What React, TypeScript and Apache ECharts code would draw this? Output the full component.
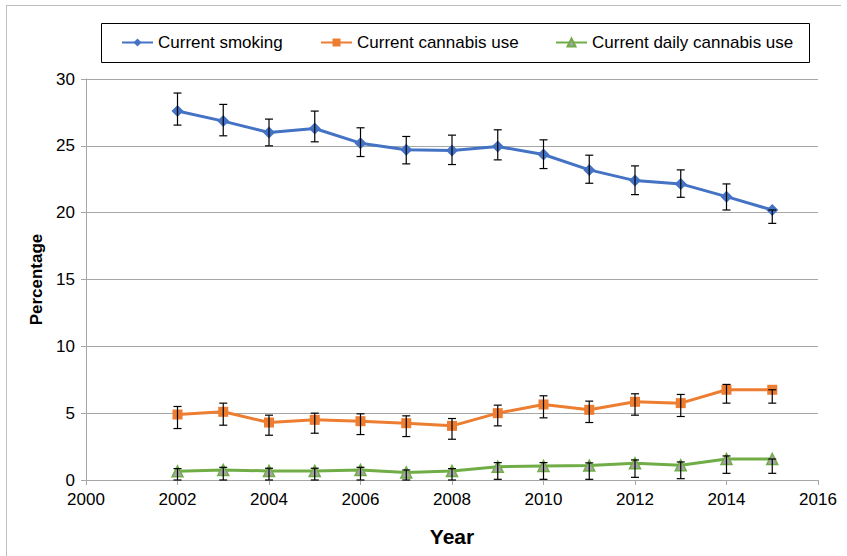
import React, { useEffect, useRef } from "react";
import * as echarts from "echarts";

const years = [2002, 2003, 2004, 2005, 2006, 2007, 2008, 2009, 2010, 2011, 2012, 2013, 2014, 2015];

const smoking = [27.6, 26.85, 26.0, 26.3, 25.2, 24.7, 24.65, 24.95, 24.35, 23.2, 22.4, 22.15, 21.2, 20.2];
const smokingHigh = [28.95, 28.1, 27.0, 27.6, 26.35, 25.7, 25.8, 26.2, 25.45, 24.3, 23.5, 23.2, 22.15, 20.2];
const smokingLow = [26.55, 25.75, 25.0, 25.3, 24.2, 23.65, 23.6, 23.95, 23.3, 22.2, 21.35, 21.15, 20.2, 19.2];

const cannabis = [4.9, 5.1, 4.3, 4.5, 4.4, 4.25, 4.05, 5.0, 5.65, 5.25, 5.85, 5.75, 6.75, 6.75];
const cannabisHigh = [5.5, 5.75, 4.85, 5.0, 4.95, 4.8, 4.6, 5.6, 6.3, 5.9, 6.45, 6.4, 7.15, 6.75];
const cannabisLow = [3.85, 4.1, 3.35, 3.5, 3.4, 3.25, 3.05, 4.05, 4.65, 4.3, 4.85, 4.75, 5.75, 5.75];

const daily = [0.65, 0.75, 0.68, 0.68, 0.75, 0.57, 0.67, 1.0, 1.05, 1.08, 1.25, 1.1, 1.57, 1.57];
const dailyHigh = [0.85, 0.95, 0.88, 0.88, 0.95, 0.75, 0.85, 1.3, 1.3, 1.28, 1.5, 1.35, 1.8, 1.57];
const dailyLow = [0, 0, 0, 0, 0, 0, 0, 0.05, 0.05, 0.05, 0.2, 0.1, 0.5, 0.5];

const seriesNames = ["Current smoking", "Current cannabis use", "Current daily cannabis use"];
const yTicks = { min: 0, max: 30, interval: 5 };
const xTicks = { min: 2000, max: 2016, interval: 2 };

const FONT = "'Liberation Sans', Arial, sans-serif";

function errorSeries(low: number[], high: number[]) {
  return {
    type: "custom",
    z: 5,
    silent: true,
    data: years.map((y, i) => [y, low[i], high[i]]),
    renderItem: (params: any, api: any) => {
      const x = api.value(0);
      const lo = api.coord([x, api.value(1)]);
      const hi = api.coord([x, api.value(2)]);
      const w = 4;
      const style = { stroke: "#000", lineWidth: 1.2 };
      const children: any[] = [
        { type: "line", shape: { x1: lo[0], y1: lo[1], x2: hi[0], y2: hi[1] }, style },
      ];
      if (Math.abs(hi[1] - lo[1]) > 0.5) {
        children.push({ type: "line", shape: { x1: hi[0] - w, y1: hi[1], x2: hi[0] + w, y2: hi[1] }, style });
        children.push({ type: "line", shape: { x1: lo[0] - w, y1: lo[1], x2: lo[0] + w, y2: lo[1] }, style });
      }
      return { type: "group", children };
    },
  };
}

export default function App() {
  const ref = useRef<HTMLDivElement>(null);
  useEffect(() => {
    if (!ref.current) return;
    const chart = echarts.init(ref.current, undefined, { renderer: "svg" });
    const legendText = { fontSize: 17, color: "#000", fontFamily: FONT };
    const legendCommon = { top: 34, padding: 0, itemWidth: 31, itemHeight: 10, itemGap: 0, textStyle: legendText };
    chart.setOption({
      animation: false,
      backgroundColor: "#fff",
      graphic: [
        { type: "line", shape: { x1: 6, y1: 5.5, x2: 841, y2: 5.5 }, style: { stroke: "#bfbfbf", lineWidth: 1 } },
        { type: "line", shape: { x1: 6.5, y1: 5, x2: 6.5, y2: 556 }, style: { stroke: "#bfbfbf", lineWidth: 1 } },
        {
          type: "rect",
          shape: { x: 101.5, y: 23.5, width: 708, height: 39 },
          style: { fill: "none", stroke: "#000", lineWidth: 1 },
          z: 10,
        },
      ],
      legend: [
        { ...legendCommon, data: [seriesNames[0]], left: 121 },
        { ...legendCommon, data: [seriesNames[1]], left: 320 },
        { ...legendCommon, data: [seriesNames[2]], left: 555 },
      ],
      grid: { left: 86, right: 29, top: 79, bottom: 76, containLabel: false },
      xAxis: {
        type: "value",
        min: xTicks.min,
        max: xTicks.max,
        interval: xTicks.interval,
        name: "Year",
        nameLocation: "middle",
        nameGap: 46,
        nameTextStyle: { fontSize: 21, fontWeight: "bold", color: "#000", fontFamily: FONT },
        axisLine: { show: true, lineStyle: { color: "#a6a6a6", width: 1 } },
        axisTick: { show: true, length: 5, lineStyle: { color: "#a6a6a6" } },
        axisLabel: { fontSize: 17, color: "#000", fontFamily: FONT, margin: 11, formatter: (v: number) => String(v) },
        splitLine: { show: false },
      },
      yAxis: {
        type: "value",
        min: yTicks.min,
        max: yTicks.max,
        interval: yTicks.interval,
        name: "Percentage",
        nameLocation: "middle",
        nameGap: 35,
        nameRotate: 90,
        nameTextStyle: { fontSize: 17, fontWeight: "bold", color: "#000", fontFamily: FONT },
        axisLine: { show: true, lineStyle: { color: "#a6a6a6", width: 1 } },
        axisTick: { show: true, length: 5, lineStyle: { color: "#a6a6a6" } },
        axisLabel: { fontSize: 17, color: "#000", fontFamily: FONT, margin: 11 },
        splitLine: { show: true, lineStyle: { color: "#a6a6a6", width: 1 } },
      },
      series: [
        {
          name: seriesNames[0],
          type: "line",
          data: years.map((y, i) => [y, smoking[i]]),
          symbol: "diamond",
          symbolSize: 12,
          lineStyle: { color: "#4472C4", width: 3 },
          itemStyle: { color: "#4472C4" },
          z: 3,
        },
        {
          name: seriesNames[1],
          type: "line",
          data: years.map((y, i) => [y, cannabis[i]]),
          symbol: "rect",
          symbolSize: 10,
          lineStyle: { color: "#ED7D31", width: 3 },
          itemStyle: { color: "#ED7D31" },
          z: 3,
        },
        {
          name: seriesNames[2],
          type: "line",
          data: years.map((y, i) => [y, daily[i]]),
          symbol: "triangle",
          symbolSize: 11,
          lineStyle: { color: "#70AD47", width: 3 },
          itemStyle: { color: "#A5A5A5", borderColor: "#70AD47", borderWidth: 1.5 },
          z: 3,
        },
        errorSeries(smokingLow, smokingHigh),
        errorSeries(cannabisLow, cannabisHigh),
        errorSeries(dailyLow, dailyHigh),
      ],
    });
    return () => chart.dispose();
  }, []);
  return <div ref={ref} style={{ width: 847, height: 556, position: "absolute", left: 0, top: 0 }} />;
}
